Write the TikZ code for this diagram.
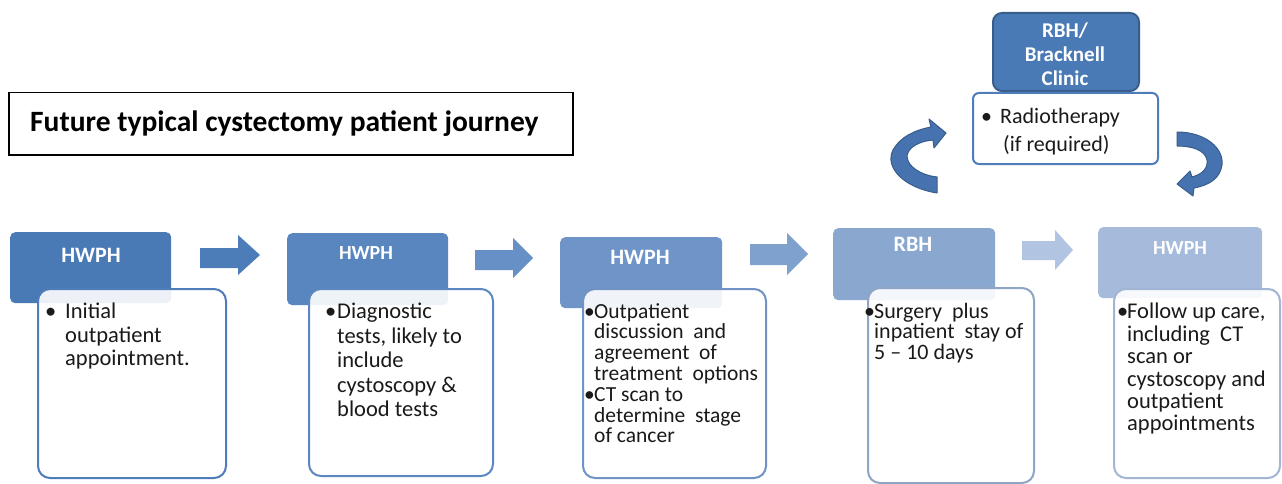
\documentclass[tikz,border=0pt]{standalone}
\usepackage{fontspec}
\setmainfont{Carlito}
\usetikzlibrary{calc}
\definecolor{hA}{HTML}{4A7AB6}
\definecolor{hB}{HTML}{5A86C0}
\definecolor{hC}{HTML}{6E94C8}
\definecolor{hD}{HTML}{8AA7D0}
\definecolor{hE}{HTML}{A6BBDC}
\definecolor{aA}{HTML}{4C7DB9}
\definecolor{aB}{HTML}{6690C6}
\definecolor{aC}{HTML}{7FA1CE}
\definecolor{aD}{HTML}{B1C4E2}
\definecolor{bA}{HTML}{4F7DBA}
\definecolor{bB}{HTML}{5C87C0}
\definecolor{bC}{HTML}{7092C4}
\definecolor{bD}{HTML}{8EA5C6}
\definecolor{bE}{HTML}{A2B5D4}
\definecolor{topfill}{HTML}{4A7AB6}
\definecolor{topline}{HTML}{385D8A}
\definecolor{curvefill}{HTML}{4673B0}
\definecolor{bodytext}{HTML}{1A1A1A}
\newcommand{\mybul}[1]{\makebox[#1][l]{\textbullet}}
\begin{document}
\begin{tikzpicture}[x=1pt,y=-1pt,
  hdr/.style={rounded corners=5pt, inner sep=0pt, anchor=north west},
  bodybox/.style={draw, line width=2pt, fill=white, fill opacity=0.9, rounded corners=12pt, inner sep=0pt, anchor=north west},
  hdrtxt/.style={text=white, font=\bfseries\fontsize{20}{24}\selectfont, inner sep=0pt},
  txt/.style={anchor=north west, inner sep=0pt, align=left, text=bodytext},
  curvearrow/.style={fill=curvefill, draw=topline, line width=1pt, line join=round}
]
\useasboundingbox (0,0) rectangle (1282,484);
\fill[white] (0,0) rectangle (1282,484);

% title
\node[draw, line width=1.5pt, minimum width=564pt, minimum height=62pt, inner sep=0pt, anchor=north west] (title) at (8,92) {};
\node[anchor=west, inner sep=0pt, font=\bfseries\fontsize{29.5}{32}\selectfont] (titletxt) at (30,124) {Future typical cystectomy patient journey};

% block arrows
\fill[aA] (200,248) -- (238,248) -- (238,235) -- (260,255) -- (238,275) -- (238,268) -- (200,268) -- cycle;
\fill[aB] (475,250) -- (513,250) -- (513,238) -- (533,258) -- (513,278) -- (513,270) -- (475,270) -- cycle;
\fill[aC] (750,244) -- (787,244) -- (787,233) -- (808,254) -- (787,275) -- (787,265) -- (750,265) -- cycle;
\fill[aD] (1022,241) -- (1055,241) -- (1055,230) -- (1073,250) -- (1055,270) -- (1055,260) -- (1022,260) -- cycle;

% step 1
\node[hdr, fill=hA, minimum width=161pt, minimum height=71pt] (h1) at (10,232) {};
\node[hdrtxt, font=\bfseries\fontsize{22}{24}\selectfont] (h1t) at (91,255) {HWPH};
\node[bodybox, draw=bA, minimum width=188pt, minimum height=189pt] (b1) at (37,288) {};
\node[txt, font=\fontsize{22.5}{23.5}\selectfont] (b1t) at (45,303) {\mybul{20pt}Initial\\\hspace*{20pt}outpatient\\\hspace*{20pt}appointment.};

% step 2
\node[hdr, fill=hB, minimum width=161pt, minimum height=72pt] (h2) at (287,233) {};
\node[hdrtxt] (h2t) at (366,253) {HWPH};
\node[bodybox, draw=bB, minimum width=184pt, minimum height=187pt] (b2) at (308,288) {};
\node[txt, font=\fontsize{22.5}{24.5}\selectfont] (b2t) at (325,303) {\mybul{12pt}Diagnostic\\\hspace*{12pt}tests, likely to\\\hspace*{12pt}include\\\hspace*{12pt}cystoscopy \&\\\hspace*{12pt}blood tests};

% step 3
\node[hdr, fill=hC, minimum width=162pt, minimum height=71pt] (h3) at (560,237) {};
\node[hdrtxt, font=\bfseries\fontsize{22}{24}\selectfont] (h3t) at (640,257) {HWPH};
\node[bodybox, draw=bC, minimum width=183pt, minimum height=189pt] (b3) at (582,288) {};
\node[txt, font=\fontsize{21.5}{20.8}\selectfont] (b3t) at (584,303) {\mybul{10pt}Outpatient\\\hspace*{10pt}discussion\ \ and\\\hspace*{10pt}agreement\ \ of\\\hspace*{10pt}treatment\ \ options\\\mybul{10pt}CT scan to\\\hspace*{10pt}determine\ \ stage\\\hspace*{10pt}of cancer};

% step 4
\node[hdr, fill=hD, minimum width=162pt, minimum height=72pt] (h4) at (833,228) {};
\node[hdrtxt, font=\bfseries\fontsize{22}{24}\selectfont] (h4t) at (913,244) {RBH};
\node[bodybox, draw=bD, minimum width=166pt, minimum height=195pt] (b4) at (867,287) {};
\node[txt, font=\fontsize{22}{20.5}\selectfont] (b4t) at (864,303) {\mybul{10pt}Surgery\ \ plus\\\hspace*{10pt}inpatient\ \ stay of\\\hspace*{10pt}5 -- 10 days};

% step 5
\node[hdr, fill=hE, minimum width=164pt, minimum height=71pt] (h5) at (1098,227) {};
\node[hdrtxt] (h5t) at (1180,248) {HWPH};
\node[bodybox, draw=bE, minimum width=166pt, minimum height=189pt] (b5) at (1113,288) {};
\node[txt, font=\fontsize{22.5}{22.4}\selectfont] (b5t) at (1117,303) {\mybul{10pt}Follow up care,\\\hspace*{10pt}including\ \ CT\\\hspace*{10pt}scan or\\\hspace*{10pt}cystoscopy and\\\hspace*{10pt}outpatient\\\hspace*{10pt}appointments};

% top: radiotherapy
\node[hdr, fill=topfill, draw=topline, line width=2pt, rounded corners=9pt, minimum width=146pt, minimum height=78pt] (ht) at (992,12) {};
\node[hdrtxt, align=center, font=\bfseries\fontsize{21}{24}\selectfont] (htt) at (1065,54) {RBH/\\Bracknell\\Clinic};
\node[bodybox, draw=bA, rounded corners=6pt, minimum width=185pt, minimum height=71pt] (bt) at (972,92) {};
\node[txt, font=\fontsize{22}{28}\selectfont] (btt) at (981,108) {\mybul{19pt}Radiotherapy\\\hspace*{22pt}(if required)};

% curved arrows
\path[curvearrow] (937,193) .. controls (905,188) and (884,168) .. (893,150)
  .. controls (900,137) and (915,130) .. (931,127)
  -- (929,119) -- (946,133) -- (934,148) -- (933,140)
  .. controls (920,141) and (908,147) .. (907,156)
  .. controls (907,166) and (920,175) .. (937,177) -- cycle;
\path[curvearrow] (1177,132) .. controls (1205,132) and (1224,148) .. (1222,165)
  .. controls (1220,178) and (1210,185) .. (1194,188)
  -- (1193,196) -- (1177,184) -- (1190,171) -- (1192,177)
  .. controls (1203,174) and (1208,168) .. (1207,160)
  .. controls (1205,150) and (1192,146) .. (1177,146) -- cycle;
\end{tikzpicture}
\end{document}
